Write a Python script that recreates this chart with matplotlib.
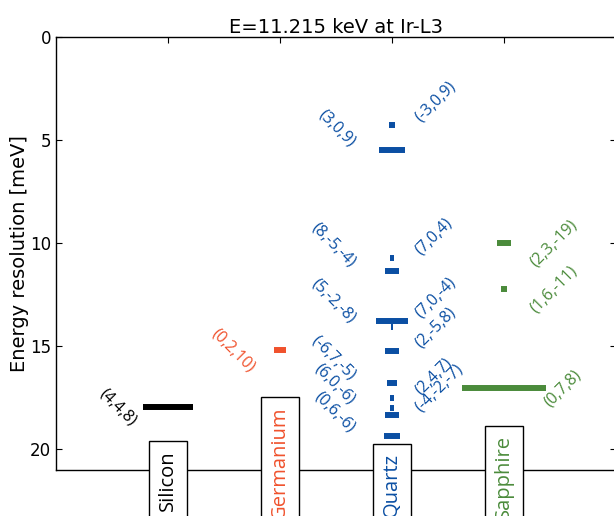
import matplotlib.pyplot as plt

# Cristaux analyseurs, position sur l'axe x
materials = ["Silicon", "Germanium", "Quartz", "Sapphire"]
mat_colors = ["black", "#f0522d", "#0b4fa3", "#4b8b3b"]

# Réflexions (hkl), résolution en meV, largeur des barres
si_hkl = ["(4,4,8)"]
si_res = [17.96]
si_width = [0.45]

ge_hkl = ["(0,2,10)"]
ge_res = [15.19]
ge_width = [0.10]

qz_hkl = ["(-3,0,9)", "(3,0,9)", "(7,0,4)", "(8,-5,-4)", "(7,0,-4)", "(5,-2,-8)",
          "(2,-5,8)", "(-6,7,-5)", "(2,4,7)", "(6,0,-6)", "(-4,-2,-7)", "(0,6,-6)"]
qz_res = [4.27, 5.49, 10.70, 11.33, 13.79, 14.05, 15.24, 16.80, 17.50, 17.99, 18.33, 19.34]
qz_width = [0.06, 0.24, 0.035, 0.12, 0.28, 0.012, 0.125, 0.09, 0.036, 0.03, 0.12, 0.15]

sa_hkl = ["(2,3,-19)", "(1,6,-11)", "(0,7,8)"]
sa_res = [10.00, 12.23, 17.04]
sa_width = [0.12, 0.045, 0.75]

groups = [
    (si_hkl, si_res, si_width),
    (ge_hkl, ge_res, ge_width),
    (qz_hkl, qz_res, qz_width),
    (sa_hkl, sa_res, sa_width),
]

# côté des étiquettes (-1 gauche, +1 droite), décalage en x, alignement vertical
label_side = [[-1], [-1], [1, -1] * 6, [1, 1, 1]]
label_dx = [[0.25], [0.20], [0.18, 0.30] * 6, [0.21, 0.21, 0.33]]
label_va = ["center", "center", "bottom", "center"]
# haut du texte des noms (en meV, l'axe est inversé)
name_top = [20.03, 17.90, 20.18, 19.31]

fig = plt.figure(figsize=(6.14, 5.16), dpi=100)
ax = fig.add_axes([56 / 614, 1 - 470 / 516, 560 / 614, 433 / 516])

for i, (hkl, res, width) in enumerate(groups):
    x0 = i + 1
    col = mat_colors[i]
    left = [x0 - w / 2 for w in width]
    right = [x0 + w / 2 for w in width]
    ax.hlines(res, left, right, colors=col, linewidth=4.3, capstyle="butt", zorder=3)
    for j, lab in enumerate(hkl):
        side = label_side[i][j]
        xt = x0 + side * label_dx[i][j]
        ax.text(xt, res[j], lab, color=col, fontsize=11.5, family="Open Sans",
                rotation=45 if side > 0 else -45,
                ha="left" if side > 0 else "right", va=label_va[i])
    # nom du cristal dans une boîte en bas
    ax.text(x0, name_top[i], materials[i], color=col, fontsize=14.5, family="Open Sans",
            rotation=90, ha="center", va="top", clip_on=False, zorder=4,
            bbox=dict(boxstyle="square,pad=0.43", facecolor="white",
                      edgecolor="black", linewidth=1.0))

ax.set_xlim(0, 5)
ax.set_ylim(21, 0)
ax.set_xticks([1, 2, 3, 4])
ax.set_xticklabels([])
ax.set_yticks([0, 5, 10, 15, 20])
ax.tick_params(direction="in", top=True, right=True, length=4, labelsize=12)
for sp in ax.spines.values():
    sp.set_linewidth(1.0)

ax.set_ylabel("Energy resolution [meV]", fontsize=14, labelpad=1)
ax.set_title("E=11.215 keV at Ir-L3", fontsize=14, pad=3)

fig.savefig("out.png", dpi=100)
